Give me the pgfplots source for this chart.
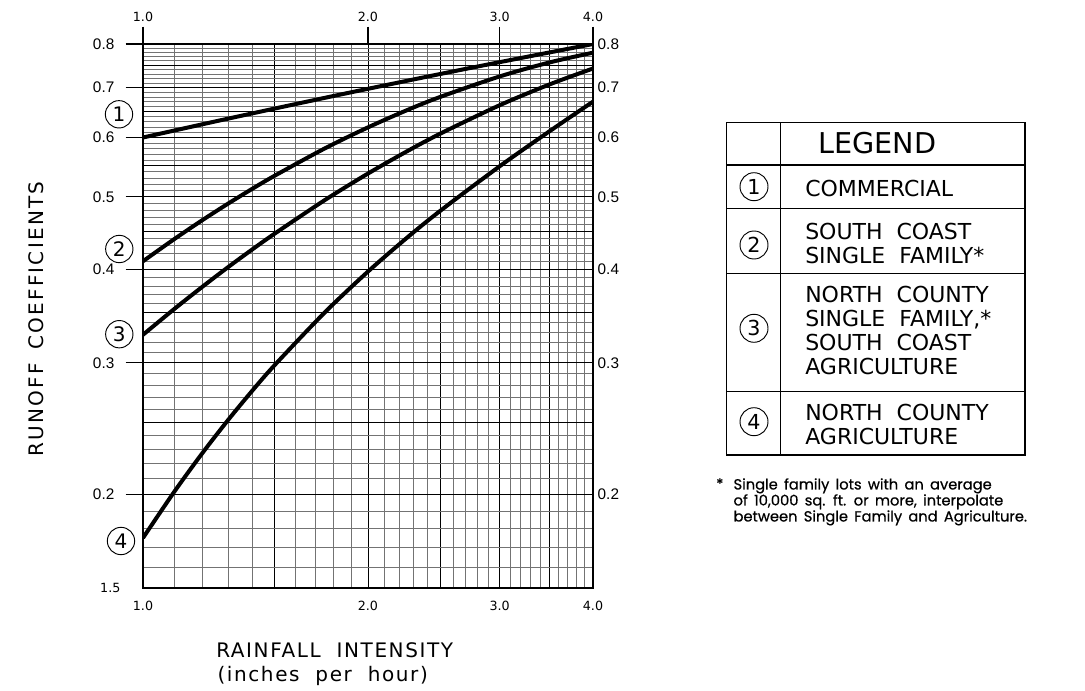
\documentclass[border=0pt]{standalone}
\usepackage{fontspec}
\setmainfont{Liberation Sans}
\newfontfamily\cad{DejaVu Sans}[WordSpace=2]
\newfontfamily\cadT{DejaVu Sans}[WordSpace=2,LetterSpace=8]
\newfontfamily\cadY{DejaVu Sans}[WordSpace=1.6,LetterSpace=11]
\newfontfamily\foot{Poppins}[WordSpace=1.6,FakeBold=0.6]
\usepackage{pgfplots}
\pgfplotsset{compat=1.18}
\begin{document}
\begin{tikzpicture}
\begin{scope}[x=0.75pt,y=-0.75pt]
\path[use as bounding box] (0,0) rectangle (1085,691);
\end{scope}
% grid + curves
\begin{axis}[at={(107.25pt,-441pt)}, anchor=south west, scale only axis,
  width=337.5pt, height=408pt, xmode=log, ymode=log,
  xmin=1, xmax=4, ymin=0.15, ymax=0.8,
  xtick={1,1.5,2,2.5,3,3.5,4},
  minor xtick={1.1,1.2,1.3,1.4,1.6,1.7,1.8,1.9,2.1,2.2,2.3,2.4,2.6,2.7,2.8,2.9,3.1,3.2,3.3,3.4,3.6,3.7,3.8,3.9},
  ytick={0.15,0.2,0.25,0.3,0.35,0.4,0.45,0.5,0.55,0.6,0.65,0.7,0.75,0.8},
  minor ytick={0.16,0.17,0.18,0.19,0.21,0.22,0.23,0.24,0.26,0.27,0.28,0.29,0.31,0.32,0.33,0.34,0.36,0.37,0.38,0.39,0.41,0.42,0.43,0.44,0.46,0.47,0.48,0.49,0.51,0.52,0.53,0.54,0.56,0.57,0.58,0.59,0.61,0.62,0.63,0.64,0.66,0.67,0.68,0.69,0.71,0.72,0.73,0.74,0.76,0.77,0.78,0.79},
  xticklabels={}, yticklabels={},
  major tick length=0pt, minor tick length=0pt,
  grid=both,
  major grid style={black, line width=0.65pt},
  minor grid style={black!55, line width=0.45pt},
  axis line style={black, line width=1pt}]
\addplot[black, line width=3pt, smooth] coordinates {(1,0.600) (1.25,0.6305) (1.5,0.6559) (1.75,0.6778) (2,0.697) (2.5,0.7296) (3,0.7566) (3.5,0.7797) (4,0.800)};
\addplot[black, line width=3pt, smooth] coordinates {(1,0.410) (1.1,0.4386) (1.2,0.4651) (1.3,0.4896) (1.4,0.5123) (1.5,0.5334) (1.75,0.580) (2,0.619) (2.25,0.652) (2.5,0.680) (3,0.724) (3.5,0.756) (4,0.779)};
\addplot[black, line width=3pt, smooth] coordinates {(1,0.327) (1.1,0.3537) (1.2,0.3789) (1.3,0.4027) (1.4,0.4251) (1.5,0.4463) (1.75,0.4947) (2,0.537) (2.25,0.5743) (2.5,0.6073) (3,0.6626) (3.5,0.7066) (4,0.742)};
\addplot[black, line width=3pt, smooth] coordinates {(1,0.175) (1.1,0.2014) (1.2,0.2270) (1.3,0.2516) (1.4,0.2752) (1.5,0.2978) (1.75,0.3501) (2,0.3972) (2.25,0.4399) (2.5,0.479) (3,0.5491) (3.5,0.6118) (4,0.670)};
\end{axis}
% left and top ticks with labels
\begin{axis}[at={(107.25pt,-441pt)}, anchor=south west, scale only axis,
  width=337.5pt, height=408pt, xmode=log, ymode=log,
  xmin=1, xmax=4, ymin=0.15, ymax=0.8,
  xtick={1,2,3,4}, xticklabels={1.0,2.0,3.0,4.0},
  ytick={0.2,0.3,0.4,0.5,0.6,0.7,0.8}, yticklabels={0.2,0.3,0.4,0.5,0.6,0.7,0.8},
  minor xtick={}, minor ytick={},
  xtick pos=right, xticklabel pos=right, ytick pos=left, yticklabel pos=left,
  tick align=outside, major tick length=13pt, tick style={black, line width=1pt},
  axis line style={draw=none},
  xticklabel style={font=\cad\fontsize{9.5}{10}\selectfont},
  yticklabel style={font=\fontsize{11.5}{12}\selectfont, xshift=-5pt}]
\end{axis}
% bottom and right labels
\begin{axis}[at={(107.25pt,-441pt)}, anchor=south west, scale only axis,
  width=337.5pt, height=408pt, xmode=log, ymode=log,
  xmin=1, xmax=4, ymin=0.15, ymax=0.8,
  xtick={1,2,3,4}, xticklabels={1.0,2.0,3.0,4.0},
  ytick={0.2,0.3,0.4,0.5,0.6,0.7,0.8}, yticklabels={0.2,0.3,0.4,0.5,0.6,0.7,0.8},
  minor xtick={}, minor ytick={},
  xtick pos=left, xticklabel pos=left, ytick pos=right, yticklabel pos=right,
  tick style={draw=none}, axis line style={draw=none},
  xticklabel style={font=\cad\fontsize{9.5}{10}\selectfont, yshift=-6.5pt},
  yticklabel style={font=\fontsize{11.5}{12}\selectfont}]
\end{axis}
\begin{scope}[x=0.75pt,y=-0.75pt]
\node[font=\cad\fontsize{9.5}{10}\selectfont, inner sep=0pt] at (110.3,587.5) {1.5};
% circled labels on chart
\foreach \n/\xx/\yy in {1/119/114.3, 2/119.3/249, 3/119.3/334.2, 4/121/541}
  \node[circle, draw, line width=0.7pt, minimum size=20.5pt, inner sep=0pt,
        font=\cad\fontsize{15}{15}\selectfont] at (\xx,\yy) {\n};
% axis titles
\node[rotate=90, font=\cadY\fontsize{15}{15}\selectfont] at (36,319) {RUNOFF COEFFICIENTS};
\node[font=\cadT\fontsize{15}{15}\selectfont] at (334.7,650) {RAINFALL INTENSITY};
\node[font=\cadT\fontsize{15}{15}\selectfont] at (322.7,676) {(inches per hour)};
% legend table
\draw[line width=1pt] (726.5,122.5) rectangle (1025,455);
\draw[line width=1pt] (780.7,122.5) -- (780.7,455);
\foreach \yy in {165,208.3,273.3,391.7} \draw[line width=1pt] (726.5,\yy) -- (1025,\yy);
\node[font=\cad\fontsize{21.5}{22}\selectfont] at (877.3,143) {LEGEND};
\foreach \n/\yy in {1/186.7, 2/245, 3/328.3, 4/421.7}
  \node[circle, draw, line width=0.7pt, minimum size=21pt, inner sep=0pt,
        font=\cad\fontsize{15.5}{15.5}\selectfont] at (754,\yy) {\n};
\node[anchor=west, align=left, inner sep=0pt, font=\cad\fontsize{16.5}{18}\selectfont] at (805,188) {COMMERCIAL};
\node[anchor=west, align=left, inner sep=0pt, font=\cad\fontsize{16.5}{18}\selectfont] at (805,243.7) {SOUTH COAST\\SINGLE FAMILY*};
\node[anchor=west, align=left, inner sep=0pt, font=\cad\fontsize{16.5}{18}\selectfont] at (805,330.8) {NORTH COUNTY\\SINGLE FAMILY,*\\SOUTH COAST\\AGRICULTURE};
\node[anchor=west, align=left, inner sep=0pt, font=\cad\fontsize{16.5}{18}\selectfont] at (805,424.5) {NORTH COUNTY\\AGRICULTURE};
% footnote
\node[anchor=north west, inner sep=0pt, font=\foot\fontsize{11}{12}\selectfont] at (716,478) {*};
\node[anchor=north west, align=left, inner sep=0pt, font=\foot\fontsize{11}{12}\selectfont] at (733.3,478) {Single family lots with an average\\of 10,000 sq. ft. or more, interpolate\\between Single Family and Agriculture.};
\end{scope}
\end{tikzpicture}
\end{document}
